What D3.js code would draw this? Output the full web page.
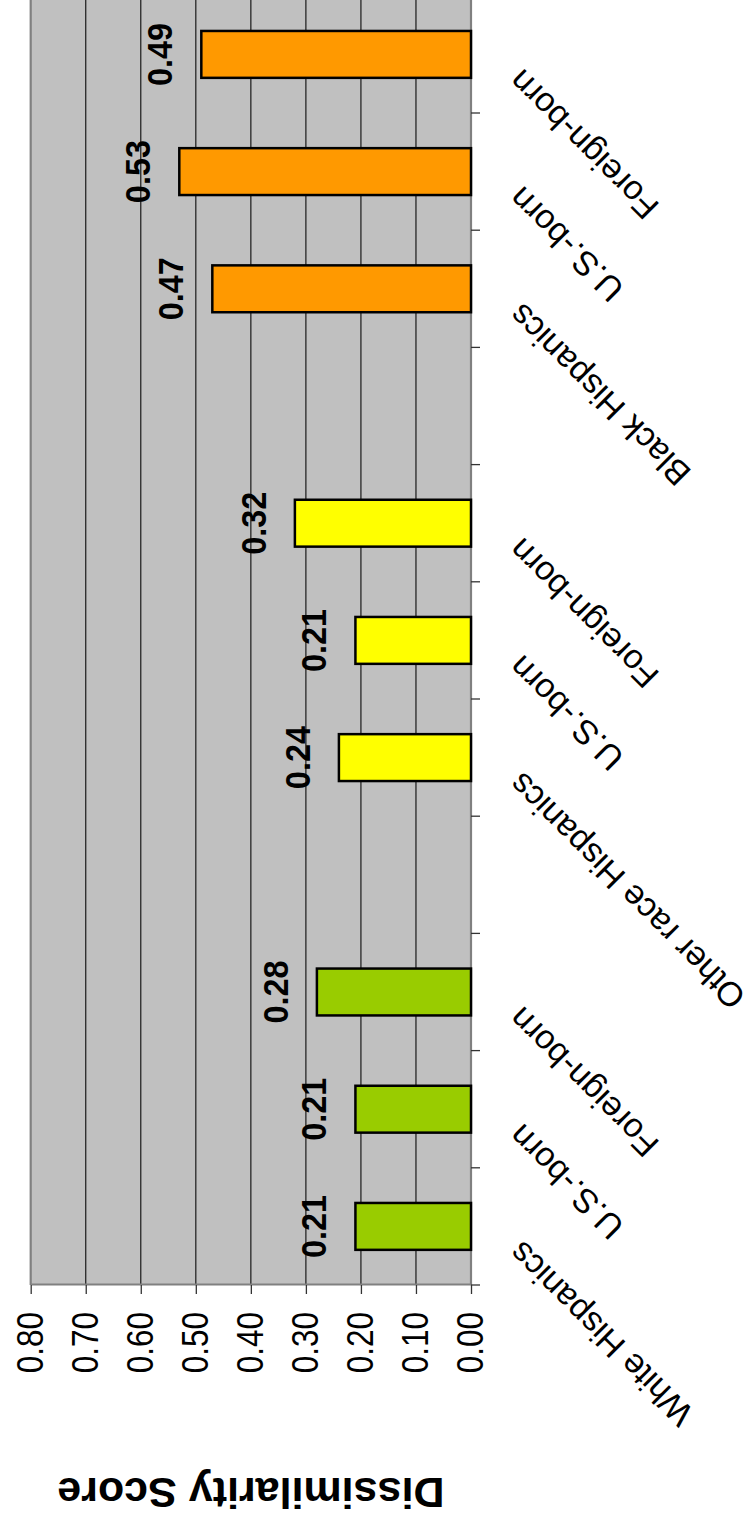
<!DOCTYPE html>
<html>
<head>
<meta charset="utf-8">
<script src="https://cdn.jsdelivr.net/npm/d3@7"></script>
<style>
  html, body { margin: 0; padding: 0; background: #fff; }
  svg { display: block; }
</style>
</head>
<body>
<svg id="chart" width="749" height="1526"></svg>
<script>
// ---- data ----
const categories = ["White Hispanics", "U.S.-born", "Foreign-born", "",
                    "Other race Hispanics", "U.S.-born", "Foreign-born", "",
                    "Black Hispanics", "U.S.-born", "Foreign-born"];
const scores = [0.21, 0.21, 0.28, null, 0.24, 0.21, 0.32, null, 0.47, 0.53, 0.49];
const groupIndex = [0, 0, 0, null, 1, 1, 1, null, 2, 2, 2];
const groupColors = ["#99CC00", "#FFFF00", "#FF9900"];
const scoreTicks = [0, 0.1, 0.2, 0.3, 0.4, 0.5, 0.6, 0.7, 0.8];
const axisTitle = "Dissimilarity Score";

// ---- layout ----
// The chart is laid out as an ordinary column chart on a landscape canvas
// (width = page height), then turned a quarter turn counter-clockwise onto
// the tall page.
const W = 749, H = 1526;
const FONT = "'Liberation Sans', Arial, Helvetica, sans-serif";

const plot = { left: 241, bottom: 471, top: 30.7 };
const step = 117.2;
plot.right = plot.left + step * categories.length;

const x = d3.scaleBand()
  .domain(d3.range(categories.length))
  .range([plot.left, plot.right])
  .padding(0);

const y = d3.scaleLinear()
  .domain([0, 0.8])
  .range([plot.bottom, plot.top]);

const svg = d3.select("#chart");
svg.append("rect").attr("width", W).attr("height", H).attr("fill", "#fff");

const root = svg.append("g")
  .attr("transform", `translate(0,${H}) rotate(-90)`)
  .attr("font-family", FONT);

// plot background
root.append("rect")
  .attr("x", plot.left).attr("y", plot.top)
  .attr("width", plot.right - plot.left)
  .attr("height", plot.bottom - plot.top)
  .attr("fill", "#C0C0C0");

// horizontal gridlines
root.append("g").selectAll("line")
  .data(scoreTicks.filter(d => d > 0 && d < 0.8))
  .join("line")
  .attr("x1", plot.left).attr("x2", plot.right)
  .attr("y1", d => y(d)).attr("y2", d => y(d))
  .attr("stroke", "#1a1a1a").attr("stroke-width", 1.2);

// top border of the plot area
root.append("line")
  .attr("x1", plot.left).attr("x2", plot.right)
  .attr("y1", y(0.8)).attr("y2", y(0.8))
  .attr("stroke", "#808080").attr("stroke-width", 2.2);

// value axis
const yAxis = d3.axisLeft(y)
  .tickValues(scoreTicks)
  .tickFormat(d3.format(".2f"))
  .tickSize(9)
  .tickSizeOuter(0)
  .tickPadding(18);

const yAxisG = root.append("g")
  .attr("transform", `translate(${plot.left},0)`)
  .call(yAxis);
yAxisG.select(".domain").attr("stroke", "#808080").attr("stroke-width", 2.2);
yAxisG.selectAll(".tick line").attr("stroke", "#333").attr("stroke-width", 1.3);
yAxisG.selectAll(".tick text")
  .attr("font-family", FONT)
  .attr("font-size", 31.5)
  .attr("fill", "#000")
  .attr("transform", "scale(1,1.15)");

// category axis line and boundary ticks
root.append("line")
  .attr("x1", plot.left).attr("x2", plot.right)
  .attr("y1", plot.bottom).attr("y2", plot.bottom)
  .attr("stroke", "#808080").attr("stroke-width", 2.2);

root.append("g").selectAll("line")
  .data(d3.range(categories.length + 1))
  .join("line")
  .attr("x1", i => plot.left + i * x.step())
  .attr("x2", i => plot.left + i * x.step())
  .attr("y1", plot.bottom)
  .attr("y2", plot.bottom + 9)
  .attr("stroke", "#333").attr("stroke-width", 1.3);

// category labels, slanted
root.append("g").selectAll("text")
  .data(categories.map((c, i) => ({ c, i })).filter(d => d.c !== ""))
  .join("text")
  .attr("transform", d =>
    `translate(${x(d.i) + x.bandwidth() / 2 - 13},${plot.bottom + 52}) rotate(-45)`)
  .attr("text-anchor", "end")
  .attr("font-size", 34)
  .attr("fill", "#000")
  .text(d => d.c);

// bars
const barData = scores.map((v, i) => ({ v, i, g: groupIndex[i] })).filter(d => d.v !== null);
const barW = x.bandwidth() * 0.4;

root.append("g").selectAll("rect")
  .data(barData)
  .join("rect")
  .attr("x", d => x(d.i) + (x.bandwidth() - barW) / 2)
  .attr("y", d => y(d.v))
  .attr("width", barW)
  .attr("height", d => y(0) - y(d.v))
  .attr("fill", d => groupColors[d.g])
  .attr("stroke", "#000")
  .attr("stroke-width", 2.5);

// value labels
root.append("g").selectAll("text")
  .data(barData)
  .join("text")
  .attr("transform", d =>
    `translate(${x(d.i) + x.bandwidth() / 2},${y(d.v) - 29}) scale(1,1.08)`)
  .attr("text-anchor", "middle")
  .attr("font-size", 32.4)
  .attr("font-weight", "bold")
  .attr("fill", "#000")
  .text(d => d3.format(".2f")(d.v));

// axis title
root.append("text")
  .attr("transform", `translate(48,${(plot.top + plot.bottom) / 2}) rotate(-90)`)
  .attr("text-anchor", "middle")
  .attr("font-size", 43)
  .attr("font-weight", "bold")
  .attr("fill", "#000")
  .text(axisTitle);
</script>
</body>
</html>
